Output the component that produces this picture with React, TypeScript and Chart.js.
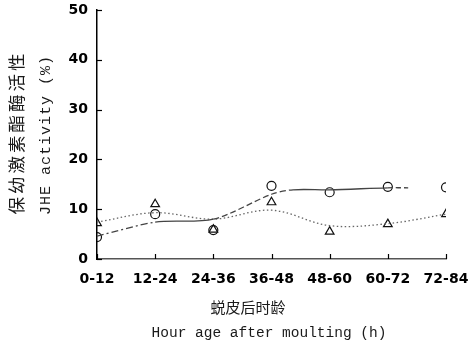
import React, { useEffect, useRef } from "react";
import { Chart, registerables } from "chart.js";

Chart.register(...registerables);

const categories = ["0-12", "12-24", "24-36", "36-48", "48-60", "60-72", "72-84"];
const yTicks = [0, 10, 20, 30, 40, 50];
const circleValues = [4.4, 9.0, 5.8, 14.7, 13.4, 14.5, 14.4];
const triangleValues = [7.2, 11.0, 5.9, 11.4, 5.5, 7.0, 9.0];
const circleFitX = [0, 1, 2, 3, 3.37, 4, 5, 5.35];
const circleFitY = [4.6, 7.4, 8.0, 13.0, 13.9, 13.9, 14.3, 14.3];
const triangleFitX = [0, 1, 2, 3, 4, 5, 6];
const triangleFitY = [7.4, 9.3, 8.0, 9.8, 6.7, 7.1, 9.0];

const yTitleCn = "保幼激素酯酶活性";
const yTitleEn = "JHE activity (%)";
const xTitleCn = "蜕皮后时龄";
const xTitleEn = "Hour age after moulting (h)";

const titlesPlugin = {
  id: "titles",
  afterDraw(chart: any) {
    const ctx = chart.ctx as CanvasRenderingContext2D;
    const xs = chart.scales.x;
    const ys = chart.scales.y;
    ctx.save();
    ctx.strokeStyle = "#000";
    ctx.lineWidth = 1.2;
    yTicks.forEach((v) => {
      const py = Math.round(ys.getPixelForValue(v)) + 0.5;
      ctx.beginPath();
      ctx.moveTo(xs.left, py);
      ctx.lineTo(xs.left + 5, py);
      ctx.stroke();
    });
    categories.forEach((_, i) => {
      const px = Math.round(xs.getPixelForValue(i)) + 0.5;
      ctx.beginPath();
      ctx.moveTo(px, ys.bottom);
      ctx.lineTo(px, ys.bottom - 5);
      ctx.stroke();
    });
    ctx.fillStyle = "#1a1a1a";
    ctx.textAlign = "center";
    ctx.textBaseline = "middle";
    ctx.save();
    ctx.translate(16, 134);
    ctx.rotate(-Math.PI / 2);
    ctx.font = "400 17.5px 'Noto Sans CJK SC'";
    (ctx as any).letterSpacing = "3px";
    ctx.fillText(yTitleCn, 1.5, 0);
    ctx.restore();
    ctx.save();
    ctx.translate(46, 135);
    ctx.rotate(-Math.PI / 2);
    ctx.font = "15px 'Liberation Mono'";
    (ctx as any).letterSpacing = "1px";
    ctx.fillText(yTitleEn, 0, 0);
    ctx.restore();
    ctx.font = "400 15px 'Noto Sans CJK SC'";
    ctx.fillText(xTitleCn, 248, 307);
    ctx.font = "14.5px 'Liberation Mono'";
    ctx.fillText(xTitleEn, 269, 333);
    ctx.restore();
  },
};

export default function App() {
  const ref = useRef<HTMLCanvasElement>(null);
  useEffect(() => {
    if (!ref.current) return;
    const dash = (ctx: any) => {
      const x0 = ctx.p0.parsed.x;
      if (x0 < 1) return [7, 3, 2, 3];
      if (x0 < 2) return [];
      if (x0 < 3.3) return [6, 3];
      if (x0 < 5) return [];
      return [5, 3];
    };
    const chart = new Chart(ref.current, {
      type: "line",
      data: {
        datasets: [
          {
            data: circleFitX.map((x, i) => ({ x, y: circleFitY[i] })),
            borderColor: "#444",
            borderWidth: 1.3,
            pointRadius: 0,
            tension: 0.3,
            segment: { borderDash: dash },
          },
          {
            data: triangleFitX.map((x, i) => ({ x, y: triangleFitY[i] })),
            borderColor: "#666",
            borderWidth: 1.3,
            borderDash: [1.5, 2.5],
            pointRadius: 0,
            tension: 0.35,
          },
          {
            data: circleValues.map((y, i) => ({ x: i, y })),
            showLine: false,
            pointStyle: "circle",
            pointRadius: 4.5,
            pointBorderWidth: 1.2,
            pointBorderColor: "#111",
            pointBackgroundColor: "rgba(0,0,0,0)",
          },
          {
            data: triangleValues.map((y, i) => ({ x: i, y })),
            showLine: false,
            pointStyle: "triangle",
            pointRadius: 5,
            pointBorderWidth: 1.2,
            pointBorderColor: "#111",
            pointBackgroundColor: "rgba(0,0,0,0)",
          },
        ],
      },
      options: {
        animation: false,
        responsive: false,
        layout: { padding: { top: 10, right: 24, left: 0, bottom: 0 } },
        plugins: { legend: { display: false }, tooltip: { enabled: false } },
        scales: {
          x: {
            type: "linear",
            min: 0,
            max: 6,
            afterFit: (s: any) => {
              s.height = 91;
              s.paddingLeft = 0;
              s.paddingRight = 0;
            },
            afterBuildTicks: (s: any) => {
              s.ticks = categories.map((_, i) => ({ value: i }));
            },
            grid: { display: false, drawTicks: false },
            border: { display: true, color: "#555", width: 1.5 },
            ticks: {
              padding: 12,
              maxRotation: 0,
              autoSkip: false,
              color: "#000",
              font: { family: "'DejaVu Sans'", weight: "bold", size: 14 },
              callback: (v: any) => categories[v as number] ?? "",
            },
          },
          y: {
            min: 0,
            max: 50,
            afterFit: (s: any) => {
              s.width = 97;
              s.paddingTop = 0;
              s.paddingBottom = 0;
            },
            grid: { display: false, drawTicks: false },
            border: { display: true, color: "#000", width: 1.5 },
            ticks: {
              stepSize: 10,
              padding: 9,
              color: "#000",
              font: { family: "'DejaVu Sans'", weight: "bold", size: 14 },
            },
          },
        },
      },
      plugins: [titlesPlugin],
    });
    return () => chart.destroy();
  }, []);
  return (
    <div style={{ position: "fixed", left: 0, top: 0, width: 470, height: 350, background: "#fff" }}>
      <canvas ref={ref} width={470} height={350} />
    </div>
  );
}
